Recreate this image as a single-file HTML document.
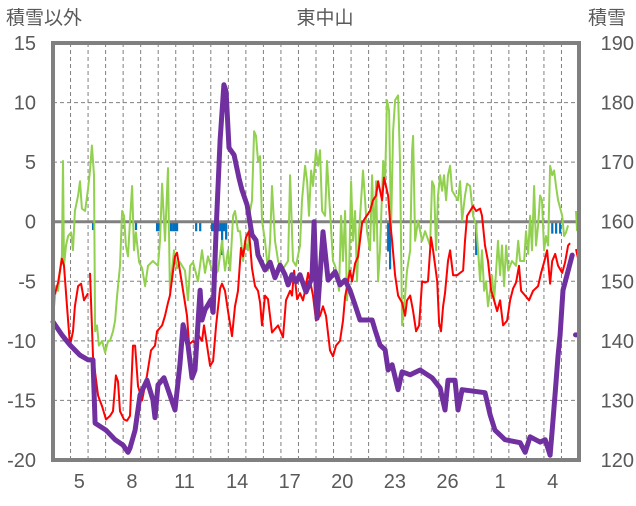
<!DOCTYPE html>
<html><head><meta charset="utf-8"><style>
html,body{margin:0;padding:0;background:#fff;}
svg text{font-family:"Liberation Sans","Noto Sans CJK JP",sans-serif;fill:#595959;}
</style></head><body>
<svg id="chart" width="636" height="501" viewBox="0 0 636 501" xmlns="http://www.w3.org/2000/svg">
<text x="6" y="24" font-size="19">積雪以外</text>
<text x="325" y="24" font-size="19" text-anchor="middle">東中山</text>
<text x="588" y="24" font-size="19">積雪</text>
<g id="grid"></g>
<g id="marks"></g>
<g id="axes"></g>
</svg>
<script>
const leftTicks=[15,10,5,0,-5,-10,-15,-20];
const rightTicks=[190,180,170,160,150,140,130,120];
const dayLabels=['5','8','11','14','17','20','23','26','1','4'];
const dayLabelPos=[1,4,7,10,13,16,19,22,25,28];
const nDays=30;
const redT=[0.11,0.29,0.51,0.63,0.80,0.97,1.14,1.25,1.43,1.60,1.77,2.00,2.05,2.11,2.28,2.57,2.80,3.02,3.25,3.42,3.59,3.71,3.82,4.05,4.22,4.39,4.56,4.68,4.85,5.08,5.36,5.59,5.82,5.93,6.22,6.39,6.56,6.67,6.85,6.96,7.07,7.24,7.42,7.64,7.76,7.99,8.16,8.33,8.50,8.61,8.96,9.13,9.30,9.53,9.64,9.81,9.98,10.21,10.38,10.55,10.72,10.84,11.01,11.18,11.35,11.52,11.69,11.81,11.92,12.09,12.26,12.49,12.66,12.84,13.12,13.29,13.52,13.63,13.75,13.92,14.09,14.26,14.38,14.55,14.72,14.83,15.00,15.23,15.40,15.57,15.80,15.97,16.14,16.37,16.54,16.66,16.94,17.06,17.23,17.40,17.63,17.80,18.08,18.25,18.43,18.54,18.77,18.88,19.11,19.22,19.34,19.51,19.68,19.91,20.08,20.19,20.37,20.54,20.71,20.88,21.05,21.22,21.39,21.56,21.68,21.91,22.02,22.13,22.25,22.36,22.53,22.65,22.82,23.05,23.22,23.39,23.50,23.62,23.79,23.96,24.13,24.36,24.47,24.64,24.81,24.99,25.16,25.33,25.50,25.67,25.90,26.07,26.24,26.41,26.58,26.70,26.93,27.15,27.38,27.67,27.84,28.01,28.18,28.35,28.47,28.64,28.81,29.04,29.21,29.38,29.49,29.6,29.83,29.95];
const redV=[-6.1,-5.1,-3.1,-3.7,-7.1,-10.4,-9.2,-7.1,-5.4,-5.2,-6.6,-6.0,null,-4.3,-11.3,-14.6,-15.5,-16.6,-16.3,-15.9,-12.9,-13.4,-15.9,-16.6,-16.7,-16.3,-10.4,-10.4,-13.8,-15.0,-12.9,-10.8,-10.4,-9.2,-8.7,-7.9,-6.8,-6.2,-4.1,-2.9,-2.6,-4.1,-5.8,-7.9,-10.3,-10.0,-10.4,-9.6,-10.0,-8.7,-12.1,-11.7,-8.7,-5.6,-5.2,-5.8,-7.5,-9.6,-7.1,-5.8,-2.2,-2.9,-1.3,-0.8,-3.9,-5.4,-5.8,-6.8,-8.7,-6.2,-6.5,-9.3,-9.0,-8.7,-9.7,-6.6,-5.8,-6.2,-4.1,-6.5,-6.0,-6.6,-5.8,-4.3,-5.4,-6.2,-8.3,-7.9,-7.1,-7.9,-10.8,-11.3,-10.4,-10.0,-8.3,-6.3,-4.1,-5.0,-3.5,-2.9,-0.1,0.3,0.9,1.8,2.2,3.4,1.8,3.7,2.2,0.1,-1.6,-4.5,-6.2,-6.8,-7.9,-6.6,-6.2,-7.5,-9.2,-8.7,-5.0,-5.1,-5.0,-1.3,-2.4,-5.0,-8.5,-9.2,-7.1,-6.0,-3.3,-2.4,-4.5,-4.5,-4.3,-4.1,-1.6,0.5,0.9,1.3,0.9,1.1,0.5,-2.0,-3.3,-5.8,-6.6,-7.5,-6.6,-8.7,-8.3,-6.6,-5.6,-5.1,-3.7,-5.8,-6.2,-6.6,-5.8,-5.4,-4.3,-3.4,-2.4,-5.2,-3.3,-2.7,-3.7,-4.3,-3.4,-2.0,-1.8,null,-2.3,-3.1];
const greenT=[0.06,0.17,0.29,0.40,0.51,0.57,0.63,0.74,0.86,1.03,1.14,1.25,1.43,1.54,1.65,1.83,2.00,2.11,2.22,2.28,2.34,2.40,2.51,2.62,2.80,2.97,3.14,3.25,3.42,3.54,3.65,3.82,3.94,4.05,4.16,4.28,4.39,4.51,4.62,4.73,4.91,5.08,5.25,5.42,5.70,5.99,6.10,6.22,6.39,6.56,6.67,6.90,7.07,7.24,7.53,7.70,7.82,7.99,8.27,8.50,8.67,8.84,9.07,9.24,9.41,9.64,9.81,9.98,10.10,10.27,10.38,10.55,10.67,10.84,10.95,11.12,11.24,11.35,11.47,11.58,11.69,11.81,11.92,12.09,12.26,12.38,12.49,12.66,12.84,13.06,13.23,13.41,13.52,13.69,13.86,14.09,14.20,14.38,14.49,14.60,14.72,14.83,15.00,15.12,15.23,15.35,15.52,15.63,15.80,15.97,16.09,16.20,16.31,16.43,16.54,16.66,16.77,16.89,17.00,17.11,17.23,17.34,17.46,17.57,17.68,17.80,17.91,18.08,18.20,18.31,18.43,18.54,18.65,18.83,18.94,19.05,19.17,19.28,19.40,19.51,19.68,19.79,19.91,20.08,20.19,20.37,20.48,20.54,20.65,20.82,21.05,21.22,21.51,21.62,21.73,21.85,21.96,22.08,22.19,22.30,22.42,22.53,22.65,22.76,22.93,23.10,23.22,23.33,23.50,23.62,23.79,23.96,24.13,24.24,24.36,24.47,24.59,24.70,24.81,24.93,25.04,25.16,25.27,25.38,25.50,25.61,25.73,25.84,25.96,26.18,26.41,26.53,26.64,26.87,26.98,27.10,27.21,27.32,27.44,27.55,27.67,27.78,27.89,28.01,28.12,28.24,28.35,28.47,28.58,28.69,28.81,29.04,29.15,29.26,29.38,29.6,29.83,29.89];
const greenV=[-7.1,-5.4,-5.8,-4.1,-2.9,5.1,-3.7,-2.0,-1.2,-0.9,-2.4,0.9,2.2,3.4,1.1,0.9,2.8,4.3,6.4,5.1,3.9,-9.2,-8.7,-10.4,-10.0,-11.0,-10.0,-10.0,-9.2,-8.3,-6.3,-3.7,0.9,0.5,-2.0,-2.9,0.1,3.0,-2.4,-0.9,-3.4,-3.9,-5.4,-3.7,-3.3,-3.7,-1.6,3.2,-1.6,4.5,-5.8,-2.4,-3.9,-3.4,-4.1,-6.6,-3.7,-3.4,-5.0,-2.4,-4.3,-2.9,-4.1,-4.5,-4.1,-1.6,-4.1,-2.4,-4.1,0.5,0.9,-0.8,-0.8,-3.3,-1.6,-2.4,0.9,1.8,7.6,7.2,5.1,5.5,0.1,-1.6,-4.1,-1.6,3.0,-1.6,-3.3,-4.1,-3.7,-3.3,3.9,-3.3,-3.7,-2.0,1.8,4.7,3.4,0.5,4.3,3.0,6.0,4.7,6.0,0.9,0.5,5.1,0.9,-3.3,-3.7,-4.5,-5.8,0.5,-3.3,0.9,-6.6,-4.1,3.4,-1.6,0.9,-5.0,-0.8,1.8,4.3,1.8,-0.8,-2.4,3.9,-1.6,3.4,-5.0,-2.4,5.1,3.4,10.2,9.3,-0.8,7.6,10.2,10.6,5.1,-8.7,-6.2,-4.1,-2.4,6.0,7.2,-1.6,0.1,-1.6,-0.8,-2.0,3.4,3.0,-2.4,2.2,3.9,2.6,3.9,1.8,3.9,4.7,2.6,2.2,1.8,3.4,0.1,2.2,3.2,3.0,0.5,-0.3,-2.3,-5.0,-2.4,-5.8,-5.0,-7.1,-5.8,-4.5,-6.6,-4.1,-1.6,-4.5,-2.0,-5.4,-2.0,-4.1,-3.3,-3.7,-1.6,-3.3,-3.3,-0.8,-2.7,0.5,-2.4,3.0,-2.0,-0.3,2.2,1.8,-2.4,-1.2,-2.0,4.7,3.9,4.3,3.0,1.8,0.5,-1.2,-0.9,-0.3,null,0.9,-0.8];
const snowT=[0.00,0.51,0.97,1.54,2.00,2.28,2.40,3.02,3.54,3.99,4.28,4.39,4.68,4.96,5.36,5.70,5.82,5.99,6.33,6.67,6.96,7.24,7.42,7.70,7.93,8.10,8.21,8.39,8.50,8.67,9.01,9.13,9.30,9.53,9.75,9.87,10.04,10.33,10.61,10.78,11.07,11.35,11.58,11.69,12.09,12.38,12.66,12.95,13.23,13.41,13.63,13.86,14.09,14.43,14.77,14.89,15.06,15.40,15.69,16.09,16.37,16.66,16.94,17.23,17.51,18.20,18.37,18.65,18.94,19.11,19.34,19.68,19.91,20.37,20.94,21.62,22.08,22.36,22.53,22.93,23.10,23.33,24.64,24.93,25.21,25.78,26.64,26.93,27.21,27.78,28.07,28.35,28.47,28.64,28.81,28.92,29.09,29.32,29.61,29.7,29.8,29.95];
const snowV=[143.2,141.0,139.3,137.6,136.8,136.8,126.2,125.0,123.4,122.5,121.3,122.0,125.0,130.9,133.4,130.1,127.1,132.6,133.8,130.9,128.4,136.0,142.7,139.3,133.8,135.1,140.1,148.5,143.5,145.2,146.9,144.8,158.6,173.7,183.0,181.8,172.4,171.2,167.3,165.3,162.8,157.8,156.9,154.4,151.9,153.2,150.6,152.7,151.1,149.4,151.1,149.9,151.1,148.2,150.6,160.0,143.8,158.3,150.2,151.6,149.4,150.2,148.5,146.0,143.5,143.5,141.8,139.3,138.5,135.1,136.0,131.8,134.8,134.3,135.1,133.8,132.1,128.4,133.4,133.4,128.4,131.8,131.3,127.6,125.0,123.4,122.9,121.3,123.9,123.0,123.4,120.8,125.0,131.3,137.6,141.0,148.5,151.1,154.4,null,141,141];
const precipT=[2.28,4.73,5.93,6.05,6.73,6.85,6.96,7.07,8.16,8.39,9.07,9.18,9.30,9.41,9.53,9.64,9.75,9.87,14.95,19.11,19.22,24.13,28.47,28.69,28.92];
const precipV=[-0.7,-0.7,-0.8,-0.8,-0.8,-0.8,-0.8,-0.8,-0.8,-0.8,-0.8,-0.8,-0.8,-0.8,-0.8,-2.8,-0.8,-1.5,-0.7,-2.5,-4.0,-2.8,-1.0,-1.0,-1.0];

const L=53,R=579,T=43,B=460;
const NS='http://www.w3.org/2000/svg';
function x(t){return L+(R-L)*t/nDays;}
function yL(v){return B-(B-T)*(v+20)/35;}
function yR(s){return B-(B-T)*(s-120)/70;}
function mk(tag,attrs,parent){const e=document.createElementNS(NS,tag);for(const k in attrs)e.setAttribute(k,attrs[k]);parent.appendChild(e);return e;}
const grid=document.getElementById('grid'),marks=document.getElementById('marks'),axes=document.getElementById('axes');
leftTicks.forEach((v,i)=>{
  if(v!==0&&v!==15&&v!==-20){const g=mk('line',{x1:L,x2:R,y1:yL(v),y2:yL(v),stroke:'#808080','stroke-width':1,'stroke-dasharray':'4,3'},grid);
  
  }
  const t=mk('text',{x:36,y:yL(v)+7,'font-size':20,'text-anchor':'end'},axes);t.textContent=v;
  
  
  const r=mk('text',{x:634,y:yR(rightTicks[i])+7,'font-size':20,'text-anchor':'end'},axes);r.textContent=rightTicks[i];
  
  
});
for(let d=1;d<nDays;d++){const g=mk('line',{x1:x(d),x2:x(d),y1:T,y2:B,stroke:'#808080','stroke-width':1,'stroke-dasharray':'4,3'},grid);
  
  }
dayLabels.forEach((lab,i)=>{const t=mk('text',{x:x(dayLabelPos[i]+0.5),y:488,'font-size':20,'text-anchor':'middle'},axes);t.textContent=lab;
  
  });
precipT.forEach((t,i)=>{const r=mk('rect',{x:x(t)-1,y:yL(0),width:2.2,height:yL(precipV[i])-yL(0),fill:'#0070c0'},marks);
  
  });
function path(ts,vs,fy){let d='',pen=false;ts.forEach((t,i)=>{const v=vs[i];if(v===null){pen=false;return;}d+=(pen?'L':'M')+x(t).toFixed(1)+' '+fy(v).toFixed(1);pen=true;});return d;}
const zl=mk('line',{x1:L,x2:R,y1:yL(0),y2:yL(0),stroke:'#808080','stroke-width':3},marks);


const g1=mk('path',{d:path(greenT,greenV,yL),fill:'none',stroke:'#92d050','stroke-width':2,'stroke-linejoin':'round'},marks);


const r1=mk('path',{d:path(redT,redV,yL),fill:'none',stroke:'#ff0000','stroke-width':2,'stroke-linejoin':'round'},marks);


const p1=mk('path',{d:path(snowT,snowV,yR),fill:'none',stroke:'#7030a0','stroke-width':5,'stroke-linejoin':'round','stroke-linecap':'round'},marks);


const fr=mk('rect',{x:L,y:T,width:R-L,height:B-T,fill:'none',stroke:'#808080','stroke-width':4},axes);


</script>
</body></html>
